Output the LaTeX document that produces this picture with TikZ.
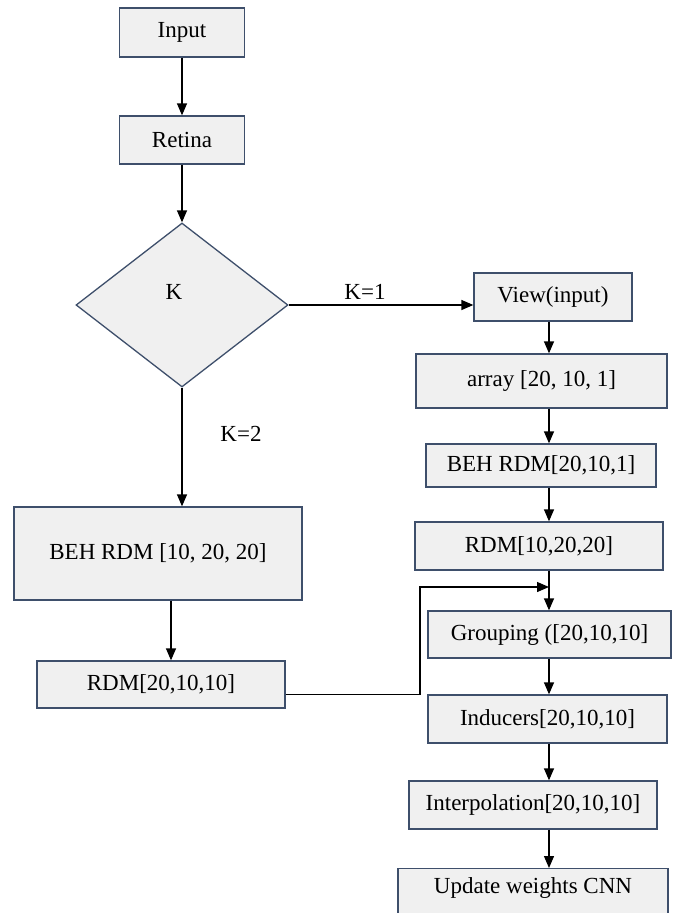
\documentclass[tikz,border=0pt]{standalone}
\usepackage{fontspec}
\setmainfont{Liberation Serif}
\usetikzlibrary{arrows.meta,shapes.geometric}
\definecolor{boxfill}{HTML}{F0F0F0}
\definecolor{boxedge}{HTML}{3E4F6B}
\tikzset{
  stepbox/.style={draw=boxedge, fill=boxfill, line width=1.3pt, inner sep=0pt,
    font=\fontsize{23}{27}\selectfont},
  decision/.style={diamond, draw=boxedge, fill=boxfill, line width=1.3pt, inner sep=0pt},
  lbl/.style={font=\fontsize{23}{27}\selectfont, inner sep=0pt},
  flow/.style={draw=black, line width=1.3pt, -{Triangle[length=12pt,width=10pt]}}
}
\begin{document}
\begin{tikzpicture}[x=1pt,y=-1pt]
\useasboundingbox (0,0) rectangle (673,913);
% left column
\node[stepbox, minimum width=125, minimum height=49] (input) at (182,32.5) {Input};
\node[stepbox, minimum width=125, minimum height=48] (retina) at (182,140) {Retina};
\node[decision, minimum width=212, minimum height=164] (k) at (182,305) {};
\node[lbl] (klbl) at (174,292) {K};
\node[stepbox, minimum width=288, minimum height=93] (beh) at (158,553.5) {BEH RDM [10, 20, 20]};
\node[stepbox, minimum width=248, minimum height=47] (rdm2) at (161,684.5) {RDM[20,10,10]};
% right column
\node[stepbox, minimum width=158, minimum height=48] (view) at (553,297) {View(input)};
\node[stepbox, minimum width=251, minimum height=54] (array) at (541.5,381) {array [20, 10, 1]};
\node[stepbox, minimum width=230, minimum height=43] (behs) at (541,465.5) {BEH RDM[20,10,1]};
\node[stepbox, minimum width=248, minimum height=48] (rdm1) at (539,546) {RDM[10,20,20]};
\node[stepbox, minimum width=243, minimum height=47] (group) at (549.5,634.5) {Grouping ([20,10,10]};
\node[stepbox, minimum width=239, minimum height=48] (induc) at (547.5,719) {Inducers[20,10,10]};
\node[stepbox, minimum width=248, minimum height=48] (interp) at (533,805) {Interpolation[20,10,10]};
\node[stepbox, minimum width=270, anchor=north, inner ysep=4pt, text height=21pt, text depth=24pt] (update) at (533,868) {Update weights CNN};
% labels
\node[lbl] (k1) at (365,292) {K=1};
\node[lbl] (k2) at (241,434) {K=2};
% helper coordinates
\coordinate (lcol) at (171,0);
\coordinate (rcol) at (549,0);
\coordinate (bend) at (420,587);
\coordinate (join) at (549,587);
% connectors
\draw[flow] (input.south) -- (retina.north);
\draw[flow] (retina.south) -- (k.north);
\draw[flow] (k.south) -- (k.south |- beh.north);
\draw[flow] (k.east) -- (k.east -| view.west);
\draw[flow] (beh.south -| lcol) -- (rdm2.north -| lcol);
\draw[flow] (view.south -| rcol) -- (array.north -| rcol);
\draw[flow] (array.south -| rcol) -- (behs.north -| rcol);
\draw[flow] (behs.south -| rcol) -- (rdm1.north -| rcol);
\draw[flow] (rdm1.south -| rcol) -- (group.north -| rcol);
\draw[flow] ([yshift=-10pt]rdm2.east) -| (bend) -- (join);
\draw[flow] (group.south -| rcol) -- (induc.north -| rcol);
\draw[flow] (induc.south -| rcol) -- (interp.north -| rcol);
\draw[flow] (interp.south -| rcol) -- (update.north -| rcol);
\end{tikzpicture}
\end{document}
